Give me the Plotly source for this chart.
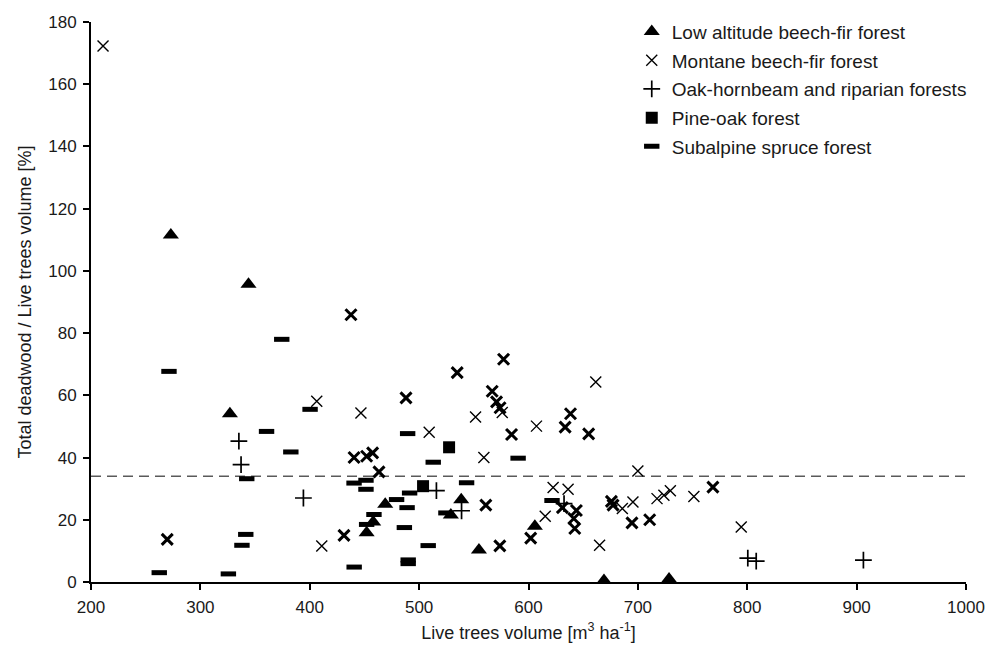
import plotly.graph_objects as go

# ---- data ----
low_x = [273, 344, 327, 452, 458, 469, 529, 538.5, 554.7, 605.8, 669, 728.5]
low_y = [111.5, 95.7, 54.1, 15.8, 19.3, 25.0, 21.5, 26.4, 10.3, 17.9, 0.5, 1.0]

mont_thin_x = [211, 406.4, 446.8, 509.2, 411, 551.6, 607.3, 661.5, 559.2, 615.3, 622.5,
               636.2, 665, 700, 685.8, 695.5, 717.5, 723.8, 729.7, 751.2, 794.5, 576]
mont_thin_y = [172.3, 58.1, 54.3, 48.1, 11.6, 53.0, 50.1, 64.3, 40.0, 21.1, 30.4,
               29.8, 11.8, 35.7, 23.6, 25.7, 26.8, 27.9, 29.3, 27.5, 17.7, 54.5]
mont_bold_x = [437.7, 488, 269.7, 440.5, 452, 457.5, 463.3, 431.3, 534.8, 577.2, 566.8,
               570.8, 574, 638.4, 633.5, 584.5, 655, 561, 573.8, 602, 631, 643.8, 641.4,
               642.3, 675.8, 677.3, 694.6, 710.8, 768.6]
mont_bold_y = [85.9, 59.2, 13.7, 40.0, 40.4, 41.5, 35.4, 15.0, 67.3, 71.6, 61.3,
               57.9, 56.0, 54.1, 49.8, 47.4, 47.6, 24.7, 11.6, 14.1, 23.9, 23.0, 20.4,
               17.2, 25.9, 24.7, 19.0, 20.0, 30.5]

oak_x = [335.2, 337.2, 394.2, 515.8, 538.8, 632.5, 800.5, 808.2, 906.2]
oak_y = [45.3, 37.7, 27.0, 29.4, 22.9, 25.2, 7.7, 6.7, 7.0]

pine_x = [503.6, 527.4]
pine_y = [30.8, 43.3]

spruce_x = [262.4, 271.3, 325.6, 338.0, 341.5, 342.4, 360.5, 374.4, 382.7, 400.3, 440.6,
            440.5, 451.4, 451.4, 452.0, 458.7, 479.4, 486.5, 489.0, 491.3, 489.5, 490.0,
            490.0, 508.3, 512.9, 524.5, 543.4, 590.5, 621.5]
spruce_y = [3.0, 67.7, 2.6, 11.8, 15.3, 33.2, 48.4, 78.0, 41.8, 55.5, 4.8,
            31.8, 32.7, 29.8, 18.5, 21.7, 26.5, 17.5, 23.9, 28.6, 47.7, 5.9,
            7.1, 11.7, 38.5, 22.2, 31.9, 39.8, 26.2]

mean_ratio = 34
x_range = [200, 1000]
y_range = [0, 180]

FONT = "Arial, 'Liberation Sans', sans-serif"
INK = "#000000"
TXT = "#1a1a1a"

fig = go.Figure()

fig.add_trace(go.Scatter(
    x=low_x, y=low_y, mode="markers", name="Low altitude beech-fir forest",
    legendgroup="low",
    marker=dict(symbol="triangle-up", size=14, color=INK, line=dict(width=0)),
    cliponaxis=False))
fig.add_trace(go.Scatter(
    x=mont_thin_x, y=mont_thin_y, mode="markers", name="Montane beech-fir forest",
    legendgroup="mont",
    marker=dict(symbol="x-thin", size=11, color=INK, line=dict(width=1.4, color=INK)),
    cliponaxis=False))
fig.add_trace(go.Scatter(
    x=mont_bold_x, y=mont_bold_y, mode="markers", name="Montane beech-fir forest",
    legendgroup="mont", showlegend=False,
    marker=dict(symbol="x-thin", size=11, color=INK, line=dict(width=3, color=INK)),
    cliponaxis=False))
fig.add_trace(go.Scatter(
    x=oak_x, y=oak_y, mode="markers", name="Oak-hornbeam and riparian forests",
    legendgroup="oak",
    marker=dict(symbol="cross-thin", size=12, color=INK, line=dict(width=1.7, color=INK)),
    cliponaxis=False))
fig.add_trace(go.Scatter(
    x=pine_x, y=pine_y, mode="markers", name="Pine-oak forest",
    legendgroup="pine",
    marker=dict(symbol="square", size=12, color=INK, line=dict(width=0)),
    cliponaxis=False))
fig.add_trace(go.Scatter(
    x=spruce_x, y=spruce_y, mode="markers", name="Subalpine spruce forest",
    legendgroup="spruce",
    marker=dict(symbol="line-ew", size=11, color=INK, line=dict(width=5, color=INK)),
    cliponaxis=False))

fig.add_shape(type="line", xref="x", yref="y",
              x0=x_range[0], x1=x_range[1], y0=mean_ratio, y1=mean_ratio,
              line=dict(color="#5a5a5a", width=1.5, dash="10px,6px"), layer="below")

axis_common = dict(
    showline=True, linecolor=INK, linewidth=2, mirror=False,
    ticks="outside", ticklen=6, tickwidth=2, tickcolor=INK,
    showgrid=False, zeroline=False,
    tickfont=dict(family=FONT, size=17, color=TXT),
)

fig.update_xaxes(range=x_range, dtick=100, tick0=200, ticklabelstandoff=3,
                 title=dict(text="Live trees volume [m<sup>3</sup> ha<sup>-1</sup>]",
                            font=dict(family=FONT, size=18, color=TXT), standoff=10),
                 **axis_common)
fig.update_yaxes(range=y_range, dtick=20, tick0=0, ticklabelstandoff=3,
                 title=dict(text="Total deadwood / Live trees volume [%]",
                            font=dict(family=FONT, size=18, color=TXT), standoff=12),
                 **axis_common)

# page body has an 8px margin: the figure is 992x637 so it fills the 1000x645 window
fig.update_layout(
    width=992, height=637,
    margin=dict(l=83, r=34, t=14, b=63, pad=0, autoexpand=False),
    paper_bgcolor="white", plot_bgcolor="white",
    font=dict(family=FONT, size=17, color=TXT),
    legend=dict(x=0.618, y=1.0166, xanchor="left", yanchor="top",
                bgcolor="rgba(0,0,0,0)", traceorder="grouped", tracegroupgap=1,
                font=dict(family=FONT, size=19, color=TXT),
                itemsizing="trace"),
    showlegend=True,
)

fig.write_html("out.html")
